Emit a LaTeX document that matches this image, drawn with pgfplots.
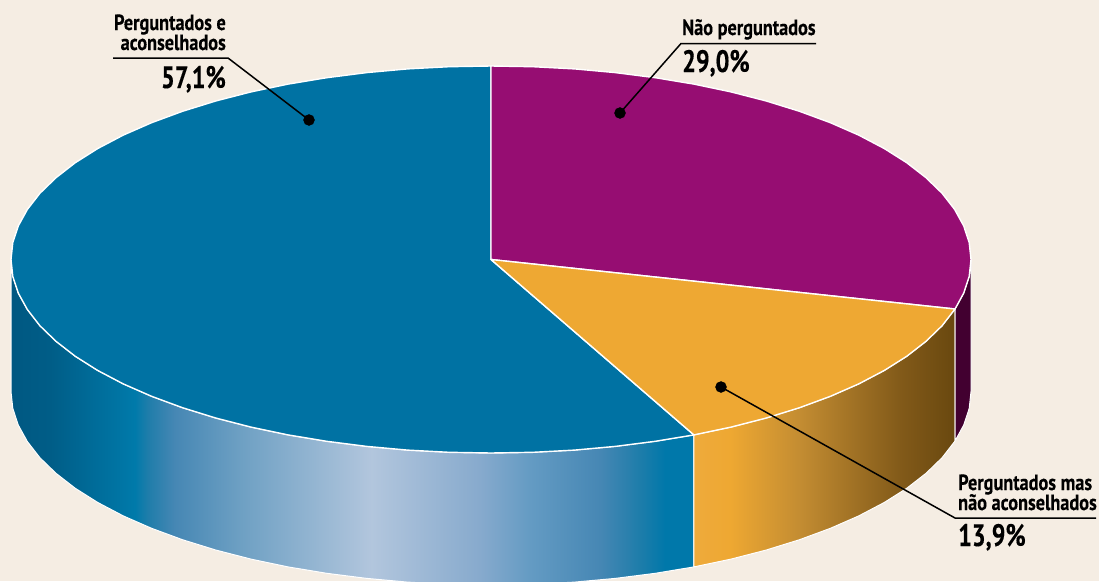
\documentclass[border=0pt]{standalone}
\usepackage{pgfplots}
\pgfplotsset{compat=1.18}
\usepackage{fontspec}
\setmainfont{PT Sans}[BoldFont=PT Sans Bold]
\newfontfamily\labelfont{PT Sans Bold}[FakeStretch=0.83,FakeBold=0.25]
\newfontfamily\numfont{PT Sans Bold}[FakeStretch=0.78,FakeBold=0.25]
\definecolor{bg}{RGB}{245,237,227}
\definecolor{BlueTop}{RGB}{0,114,163}
\definecolor{PurpleTop}{RGB}{150,13,114}
\definecolor{OrangeTop}{RGB}{238,168,51}
\definecolor{PurpleSide}{RGB}{66,0,48}
\pgfdeclarehorizontalshading{blueside}{100bp}{
  rgb(0bp)=(0,0.345,0.51);
  rgb(25bp)=(0,0.345,0.51);
  rgb(27.9bp)=(0,0.365,0.53);
  rgb(34.08bp)=(0,0.478,0.667);
  rgb(35bp)=(0.118,0.49,0.667);
  rgb(37bp)=(0.275,0.53,0.706);
  rgb(41.8bp)=(0.43,0.627,0.765);
  rgb(51.4bp)=(0.698,0.776,0.867);
  rgb(59.3bp)=(0.53,0.667,0.804);
  rgb(63bp)=(0.392,0.608,0.765);
  rgb(68.1bp)=(0.275,0.53,0.706);
  rgb(71bp)=(0.118,0.49,0.667);
  rgb(72.9bp)=(0,0.47,0.667);
  rgb(75bp)=(0,0.47,0.667);
  rgb(100bp)=(0,0.47,0.667)}
\pgfdeclarehorizontalshading{orangeside}{100bp}{
  rgb(0bp)=(0.933,0.667,0.235);
  rgb(25bp)=(0.933,0.667,0.235);
  rgb(31.9bp)=(0.933,0.659,0.196);
  rgb(45.3bp)=(0.765,0.55,0.196);
  rgb(64.5bp)=(0.51,0.353,0.098);
  rgb(75bp)=(0.412,0.282,0.059);
  rgb(100bp)=(0.412,0.282,0.059)}
\begin{document}
\begin{tikzpicture}
\begin{axis}[
  scale only axis, width=1099pt, height=581pt,
  xmin=0, xmax=1099, ymin=0, ymax=581, y dir=reverse,
  hide axis, clip=true,
]
% background
\addplot[fill=bg, draw=none] coordinates {(0,0) (1099,0) (1099,581) (0,581)} -- cycle;

% sides
\addplot[shade, shading=blueside, draw=white, line width=1pt, line join=round] coordinates {
 (693.9,434.9) (655.2,441.3) (615.2,446.4) (574.4,450.1) (532.8,452.3) (491,453)
 (449.2,452.3) (407.6,450.1) (366.8,446.4) (326.8,441.3) (288.1,434.9) (251.0,427.1)
 (215.7,418.0) (182.5,407.7) (151.6,396.3) (123.3,383.9) (97.8,370.5) (75.3,356.3)
 (56.0,341.3) (39.9,325.7) (27.4,309.6) (18.3,293.1) (12.8,276.4) (11,259.5)
 (11,391.5) (12.8,408.4) (18.3,425.1) (27.4,441.6) (39.9,457.7) (56.0,473.3)
 (75.3,488.3) (97.8,502.5) (123.3,515.9) (151.6,528.3) (182.5,539.7) (215.7,550.0)
 (251.0,559.1) (288.1,566.9) (326.8,573.3) (366.8,578.4) (407.6,582.1) (449.2,584.3)
 (491,585) (532.8,584.3) (574.4,582.1) (615.2,578.4) (655.2,573.3) (693.9,566.9)
} -- cycle;
\addplot[shade, shading=orangeside, draw=white, line width=1pt, line join=round] coordinates {
 (955,309) (942.1,325.7) (926.0,341.3) (906.7,356.3) (884.2,370.5) (858.7,383.9)
 (830.4,396.3) (799.5,407.7) (766.3,418.0) (731.0,427.1) (693.9,434.9)
 (693.9,566.9) (731.0,559.1) (766.3,550.0) (799.5,539.7) (830.4,528.3) (858.7,515.9)
 (884.2,502.5) (906.7,488.3) (926.0,473.3) (942.1,457.7) (955,441)
} -- cycle;
\addplot[fill=PurpleSide, draw=white, line width=1pt, line join=round] coordinates {
 (971,259.5) (969.2,276.4) (963.7,293.1) (955,309)
 (955,441) (963.7,425.1) (969.2,408.4) (971,391.5)
} -- cycle;

% top of the pie
\addplot[fill=BlueTop, draw=white, line width=1.4pt, line join=round] coordinates {
 (491,259.5) (693.9,434.9) (655.2,441.3) (615.2,446.4) (574.4,450.1) (532.8,452.3) (491,453)
 (449.2,452.3) (407.6,450.1) (366.8,446.4) (326.8,441.3) (288.1,434.9) (251.0,427.1)
 (215.7,418.0) (182.5,407.7) (151.6,396.3) (123.3,383.9) (97.8,370.5) (75.3,356.3)
 (56.0,341.3) (39.9,325.7) (27.4,309.6) (18.3,293.1) (12.8,276.4) (11,259.5)
 (12.8,242.6) (18.3,225.9) (27.4,209.4) (39.9,193.3) (56.0,177.7) (75.3,162.7)
 (97.8,148.5) (123.3,135.1) (151.6,122.7) (182.5,111.3) (215.7,101.0) (251.0,91.9)
 (288.1,84.1) (326.8,77.7) (366.8,72.6) (407.6,68.9) (449.2,66.7) (491,66)
} -- cycle;
\addplot[fill=PurpleTop, draw=white, line width=1.4pt, line join=round] coordinates {
 (491,259.5) (491,66) (532.8,66.7) (574.4,68.9) (615.2,72.6) (655.2,77.7) (693.9,84.1)
 (731.0,91.9) (766.3,101.0) (799.5,111.3) (830.4,122.7) (858.7,135.1) (884.2,148.5)
 (906.7,162.7) (926.0,177.7) (942.1,193.3) (954.6,209.4) (963.7,225.9) (969.2,242.6)
 (971,259.5) (969.2,276.4) (963.7,293.1) (955,309)
} -- cycle;
\addplot[fill=OrangeTop, draw=white, line width=1.4pt, line join=round] coordinates {
 (491,259.5) (955,309) (942.1,325.7) (926.0,341.3) (906.7,356.3) (884.2,370.5) (858.7,383.9)
 (830.4,396.3) (799.5,407.7) (766.3,418.0) (731.0,427.1) (693.9,434.9)
} -- cycle;

% leader lines and dots
\addplot[black, line width=1.5pt, line join=round] coordinates {(113,58) (228,58) (309,120)};
\addplot[black, line width=1.5pt, line join=round] coordinates {(816,43.5) (681,43.5) (620,113)};
\addplot[black, line width=1.5pt, line join=round] coordinates {(1096,518) (955,518) (721,387)};
\addplot[only marks, mark=*, mark size=5.5pt, mark options={fill=black, draw=black}] coordinates {(309,120) (620,113) (721,387)};

% labels
\node[anchor=base east, inner sep=0pt] at (axis cs:226,30) {\labelfont\fontsize{22}{22}\selectfont Perguntados e};
\node[anchor=base east, inner sep=0pt] at (axis cs:226,50) {\labelfont\fontsize{22}{22}\selectfont aconselhados};
\node[anchor=base east, inner sep=0pt] at (axis cs:226,88) {\numfont\fontsize{31}{31}\selectfont 57,1\%};
\node[anchor=base west, inner sep=0pt] at (axis cs:682,35) {\labelfont\fontsize{22}{22}\selectfont Não perguntados};
\node[anchor=base west, inner sep=0pt] at (axis cs:682,72) {\numfont\fontsize{31}{31}\selectfont 29,0\%};
\node[anchor=base west, inner sep=0pt] at (axis cs:958,490) {\labelfont\fontsize{22}{22}\selectfont Perguntados mas};
\node[anchor=base west, inner sep=0pt] at (axis cs:958,510) {\labelfont\fontsize{22}{22}\selectfont não aconselhados};
\node[anchor=base west, inner sep=0pt] at (axis cs:958,546) {\numfont\fontsize{31}{31}\selectfont 13,9\%};
\end{axis}
\end{tikzpicture}
\end{document}
